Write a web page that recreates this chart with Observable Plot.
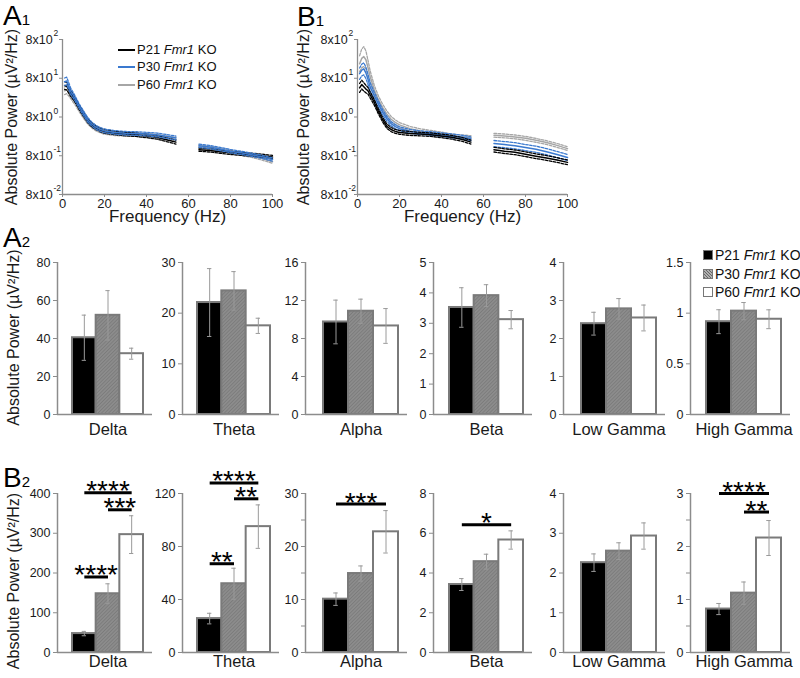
<!DOCTYPE html>
<html><head><meta charset="utf-8">
<script src="https://cdn.jsdelivr.net/npm/d3@7"></script>
<script src="https://cdn.jsdelivr.net/npm/@observablehq/plot@0.6"></script>
<style>
body{margin:0;background:#fff;font-family:"Liberation Sans",Arial,Helvetica,sans-serif;}
#fig{position:relative;width:800px;height:678px;overflow:hidden;background:#fff;}
.letter{position:absolute;font-size:28px;line-height:28px;color:#000;white-space:nowrap;}
.letter span{font-size:15px;}
.ltxt{position:absolute;white-space:nowrap;color:#111;}
.lline{position:absolute;height:2.5px;width:17px;}
.lbox{position:absolute;width:10px;height:10px;box-sizing:border-box;border:1.5px solid #777;}
</style></head>
<body>
<svg width="0" height="0" style="position:absolute">
  <defs>
    <pattern id="hatch" patternUnits="userSpaceOnUse" width="2.5" height="2.5" patternTransform="rotate(45)">
      <rect width="2.5" height="2.5" fill="#8c8c8c"></rect>
      <rect width="0.8" height="2.5" fill="#7a7a7a"></rect>
    </pattern>
  </defs>
</svg>
<div id="fig"></div>
<script>
// ================= DATA =================
const groupNames = ["P21", "P30", "P60"];
const bandNames = ["Delta", "Theta", "Alpha", "Beta", "Low Gamma", "High Gamma"];

// Spectra (A1, B1): frequency grid, mean power and SEM multipliers
const freqHz = [1,2,3,4,5,6,8,10,12,14,16,18,20,25,30,35,40,45,50,54,65,70,75,80,85,90,95,100];
const notchHz = 60;
const freqTicks = [0, 20, 40, 60, 80, 100];
const logTicks = [0.08, 0.8, 8, 80, 800];
const logTickBase = ["8x10", "8x10", "8x10", "8x10", "8x10"];
const logTickExp = ["-2", "-1", "0", "1", "2"];

const a1MeanP21 = [52,50,40,32,27,22,14,9.5,6.5,5,4.2,3.7,3.4,3.1,2.9,2.8,2.6,2.4,2.05,1.8, 1.15,1.1,1.02,0.95,0.9,0.85,0.8,0.74];
const a1MeanP30 = [65,68,50,36,30,24,15,10,6.8,5.2,4.3,3.8,3.5,3.2,3.05,3.0,2.9,2.75,2.5,2.3, 1.45,1.35,1.2,1.05,0.95,0.85,0.75,0.64];
const a1MeanP60 = [38,40,34,28,23,19,12.5,8.5,6.0,4.7,3.9,3.5,3.2,2.95,2.85,2.8,2.7,2.55,2.3,2.1, 1.38,1.28,1.15,1.0,0.9,0.8,0.68,0.56];
const a1SemP21 = [1.25,1.25,1.22,1.2,1.18,1.16,1.15,1.15,1.14,1.13,1.12,1.12,1.12,1.11,1.11,1.11,1.11,1.12,1.12,1.12, 1.1,1.1,1.1,1.1,1.1,1.1,1.1,1.1];
const a1SemP30 = [1.25,1.25,1.22,1.2,1.18,1.16,1.15,1.15,1.14,1.13,1.12,1.12,1.12,1.11,1.11,1.11,1.11,1.12,1.12,1.12, 1.1,1.1,1.1,1.1,1.1,1.1,1.1,1.1];
const a1SemP60 = [1.25,1.25,1.22,1.2,1.18,1.16,1.15,1.15,1.14,1.13,1.12,1.12,1.12,1.11,1.11,1.11,1.11,1.12,1.12,1.12, 1.1,1.1,1.1,1.1,1.1,1.1,1.1,1.1];

const b1MeanP21 = [45,55,48,42,38,30,19,11,6.8,4.6,3.8,3.4,3.2,3.0,2.9,2.8,2.6,2.4,2.1,1.8, 1.15,1.05,0.98,0.88,0.78,0.7,0.62,0.54];
const b1MeanP30 = [105,130,140,110,75,48,28,17,10.5,7.2,5.4,4.5,4.0,3.4,3.15,3.0,2.8,2.6,2.4,2.2, 1.65,1.55,1.45,1.3,1.18,1.02,0.86,0.72];
const b1MeanP60 = [190,260,290,240,150,90,40,22,14,9.5,7,5.8,5.0,4.0,3.5,3.2,2.9,2.6,2.45,2.35, 2.7,2.6,2.45,2.25,2.0,1.75,1.48,1.22];
const b1SemP21 = [1.3,1.3,1.28,1.25,1.22,1.2,1.18,1.16,1.15,1.14,1.13,1.12,1.12,1.12,1.11,1.11,1.11,1.12,1.12,1.12, 1.15,1.15,1.15,1.15,1.15,1.15,1.15,1.15];
const b1SemP30 = [1.4,1.42,1.43,1.4,1.35,1.3,1.25,1.2,1.18,1.16,1.14,1.13,1.12,1.12,1.11,1.11,1.11,1.12,1.12,1.12, 1.2,1.2,1.2,1.2,1.2,1.2,1.2,1.2];
const b1SemP60 = [1.6,1.75,1.8,1.7,1.55,1.4,1.3,1.25,1.22,1.2,1.18,1.16,1.15,1.14,1.13,1.12,1.12,1.12,1.12,1.12, 1.12,1.12,1.12,1.12,1.12,1.12,1.12,1.12];

// Band power (A2)
const a2P21 = [40.4, 22.1, 9.74, 3.52, 2.39, 0.916];
const a2P30 = [52.2, 24.4, 10.87, 3.91, 2.78, 1.02];
const a2P60 = [32.0, 17.5, 9.32, 3.12, 2.54, 0.94];
const a2SemP21 = [11.9, 6.7, 2.3, 0.65, 0.3, 0.118];
const a2SemP30 = [13.0, 3.8, 1.27, 0.36, 0.27, 0.085];
const a2SemP60 = [2.9, 1.5, 1.83, 0.3, 0.34, 0.093];
const a2YMax = [80, 30, 16, 5, 4, 1.5];
const a2Ticks = [[0,20,40,60,80],[0,10,20,30],[0,4,8,12,16],[0,1,2,3,4,5],[0,1,2,3,4],[0,0.5,1,1.5]];
const a2MinorTicks = [[],[],[],[],[],[]];

// Band power (B2)
const b2P21 = [47.6, 25.6, 10.06, 3.42, 2.26, 0.82];
const b2P30 = [147.8, 51.9, 14.9, 4.57, 2.55, 1.12];
const b2P60 = [296.5, 95, 22.77, 5.66, 2.93, 2.16];
const b2SemP21 = [5.5, 4.0, 1.17, 0.3, 0.22, 0.105];
const b2SemP30 = [25, 11.7, 1.43, 0.375, 0.21, 0.21];
const b2SemP60 = [47.5, 16.4, 4.0, 0.46, 0.33, 0.33];
const b2YMax = [400, 120, 30, 8, 4, 3];
const b2Ticks = [[0,100,200,300,400],[0,40,80,120],[0,10,20,30],[0,2,4,6,8],[0,1,2,3,4],[0,1,2,3]];
const b2MinorTicks = [[],[],[5,15,25],[],[],[0.5,1.5,2.5]];

// Significance (B2)
const sigBand  = ["Delta","Delta","Delta","Theta","Theta","Theta","Alpha","Beta","High Gamma","High Gamma"];
const sigFrom  = ["P21","P30","P21","P21","P30","P21","P21","P21","P21","P30"];
const sigTo    = ["P60","P60","P30","P60","P60","P30","P60","P60","P60","P60"];
const sigLevel = [402, 359, 190, 128, 116, 67, 28, 6.43, 3.0, 2.65];
const sigStars = ["****","***","****","****","**","**","***","*","****","**"];

const yTitle = "Absolute Power (µV²/Hz)";

// ================= STYLE / LAYOUT =================
const FONT = "'Liberation Sans', Arial, Helvetica, sans-serif";
const AXIS = "#8c8c8c";
const lineColors = ["#000000", "#3a79cf", "#a6a6a6"];
const barFills = ["#000000", "url(#hatch)", "#ffffff"];
const colAxis = [57, 182, 305, 433, 563, 690];
const colBarsStart = [72, 197, 323, 449, 581, 706];
const colBarsEnd = [143, 270, 398, 523, 656, 781];

const fig = document.getElementById("fig");
function place(el, left, top) {
  el.style.position = "absolute";
  el.style.left = left + "px";
  el.style.top = top + "px";
  fig.appendChild(el);
}
const svgStyle = {background: "transparent", overflow: "visible", fontFamily: FONT, color: "#1a1a1a", maxWidth: "none"};

function spectrumPanel(left, means, sems, order, titleDx) {
  const marks = [
    Plot.ruleX([0], {stroke: AXIS, strokeWidth: 1.3}),
    Plot.ruleY([0.08], {stroke: AXIS, strokeWidth: 1.3}),
    Plot.axisY({ticks: logTicks, tickSize: 3, stroke: AXIS, label: null, tickFormat: () => ""}),
    Plot.text(logTicks, {x: 0, y: d => d, text: (d, i) => logTickBase[i], textAnchor: "start", dx: -37, fontSize: 12.5}),
    Plot.text(logTicks, {x: 0, y: d => d, text: (d, i) => logTickExp[i], textAnchor: "start", dx: -9, dy: -6, fontSize: 8.5}),
    Plot.axisX({ticks: freqTicks, tickSize: 3, tickPadding: 1, stroke: AXIS, fontSize: 13, label: null})
  ];
  for (const gi of order) {
    const rows = freqHz.map((f, k) => ({f, seg: f > notchHz ? 1 : 0,
      m: means[gi][k], lo: means[gi][k] / sems[gi][k], hi: means[gi][k] * sems[gi][k]}));
    marks.push(Plot.line(rows, {x: "f", y: "lo", z: "seg", stroke: lineColors[gi], strokeWidth: 1.3, strokeDasharray: "2.5,1.5"}));
    marks.push(Plot.line(rows, {x: "f", y: "hi", z: "seg", stroke: lineColors[gi], strokeWidth: 1.3, strokeDasharray: "2.5,1.5"}));
    marks.push(Plot.line(rows, {x: "f", y: "m", z: "seg", stroke: lineColors[gi], strokeWidth: 1.5}));
  }
  marks.push(Plot.text(["Frequency (Hz)"], {text: d => d, frameAnchor: "bottom", dy: 27, fontSize: 17}));
  marks.push(Plot.text([yTitle], {text: d => d, frameAnchor: "left", textAnchor: "middle", rotate: -90, dx: titleDx, dy: 0, fontSize: 16}));
  const svg = Plot.plot({
    width: 290, height: 230, marginLeft: 62, marginRight: 18, marginTop: 39, marginBottom: 36,
    style: svgStyle,
    x: {domain: [0, 100]},
    y: {type: "log", domain: [0.08, 800]},
    marks
  });
  place(svg, left - 62, 0);
}

spectrumPanel(62, [a1MeanP21, a1MeanP30, a1MeanP60], [a1SemP21, a1SemP30, a1SemP60], [2, 0, 1], -51);
spectrumPanel(357, [b1MeanP21, b1MeanP30, b1MeanP60], [b1SemP21, b1SemP30, b1SemP60], [2, 1, 0], -54);

function barPanel(col, maxY, zeroY, yMax, ticks, minor, means, sems, sigs, labelDy, titleDy, titleSize) {
  const ML = col === 0 ? colAxis[0] : 45;
  const MR = 6, MT = 45, MB = 34;
  const bw = (colBarsEnd[col] - colBarsStart[col]) / 3;
  const frameW = colBarsEnd[col] + 9 - colAxis[col];
  const x0 = -0.5 - (colBarsStart[col] - colAxis[col]) / bw;
  const x1 = 2.5 + 9 / bw;
  const rows = groupNames.map((g, i) => ({g, i, v: means[i], lo: means[i] - sems[i], hi: means[i] + sems[i]}));
  const allTicks = ticks.concat(minor);
  const marks = [
    ...rows.map((r, i) => Plot.rect([r], {x1: d => d.i - 0.5, x2: d => d.i + 0.5, y1: 0, y2: "v",
      fill: barFills[i], stroke: "#7a7a7a", strokeWidth: 2})),
    Plot.ruleX(rows, {x: "i", y1: "lo", y2: "hi", stroke: "#9a9a9a", strokeWidth: 1}),
    Plot.ruleY(rows, {y: "lo", x1: d => d.i - 0.09, x2: d => d.i + 0.09, stroke: "#9a9a9a", strokeWidth: 1}),
    Plot.ruleY(rows, {y: "hi", x1: d => d.i - 0.09, x2: d => d.i + 0.09, stroke: "#9a9a9a", strokeWidth: 1}),
    Plot.ruleX([x0], {stroke: AXIS, strokeWidth: 1.5}),
    Plot.ruleY([0], {stroke: AXIS, strokeWidth: 1.5}),
    Plot.axisY({ticks: allTicks, tickSize: 4, tickPadding: 3, stroke: AXIS, fontSize: 12.5, label: null,
      tickFormat: d => ticks.includes(d) ? String(d) : ""}),
    Plot.text([bandNames[col]], {text: d => d, x: () => 1, frameAnchor: "bottom", lineAnchor: "top", dy: labelDy, fontSize: 16.5})
  ];
  if (sigs.length) {
    marks.push(Plot.link(sigs, {x1: "a", x2: "b", y1: "level", y2: "level", stroke: "#000", strokeWidth: 3}));
    marks.push(Plot.text(sigs, {x: d => (d.a + d.b) / 2, y: "level", text: "stars", fontSize: 28, dy: -1.5, fill: "#000"}));
  }
  if (col === 0) {
    marks.push(Plot.text([yTitle], {text: d => d, frameAnchor: "left", textAnchor: "middle", rotate: -90, dx: -44, dy: titleDy, fontSize: titleSize}));
  }
  const svg = Plot.plot({
    width: ML + frameW + MR, height: MT + (zeroY - maxY) + MB,
    marginLeft: ML, marginRight: MR, marginTop: MT, marginBottom: MB,
    style: svgStyle,
    x: {domain: [x0, x1], axis: null},
    y: {domain: [0, yMax], axis: null},
    marks
  });
  place(svg, colAxis[col] - ML, maxY - MT);
}

bandNames.forEach((band, c) => {
  barPanel(c, 262, 414, a2YMax[c], a2Ticks[c], a2MinorTicks[c],
    [a2P21[c], a2P30[c], a2P60[c]], [a2SemP21[c], a2SemP30[c], a2SemP60[c]], [], 9, -1, 16);
  const sigs = sigBand.map((b, k) => ({b0: b, a: groupNames.indexOf(sigFrom[k]), b: groupNames.indexOf(sigTo[k]),
    level: sigLevel[k], stars: sigStars[k]})).filter(s => s.b0 === band);
  barPanel(c, 493, 652, b2YMax[c], b2Ticks[c], b2MinorTicks[c],
    [b2P21[c], b2P30[c], b2P60[c]], [b2SemP21[c], b2SemP30[c], b2SemP60[c]], sigs, 3, 8, 16);
});

// ================= PANEL LETTERS =================
function letter(txt, sub, left, baseline) {
  const d = document.createElement("div");
  d.className = "letter";
  d.innerHTML = `${txt}<span>${sub}</span>`;
  d.style.left = left + "px";
  d.style.top = (baseline - 24) + "px";
  fig.appendChild(d);
}
letter("A", "1", 3, 26);
letter("B", "1", 297, 27);
letter("A", "2", 3, 248);
letter("B", "2", 3, 488);

// ================= LEGENDS =================
const legendY1 = [50, 67, 85];
groupNames.forEach((g, i) => {
  const ln = document.createElement("div");
  ln.className = "lline";
  ln.style.left = "118px"; ln.style.top = (legendY1[i] - 1.25) + "px";
  ln.style.background = lineColors[i];
  fig.appendChild(ln);
  const t = document.createElement("div");
  t.className = "ltxt";
  t.style.fontSize = "13px"; t.style.lineHeight = "16px";
  t.style.left = "137px"; t.style.top = (legendY1[i] - 8) + "px";
  t.innerHTML = `${g} <i>Fmr1</i> KO`;
  fig.appendChild(t);
});
const legendY2 = [255, 274, 292];
const boxBg = ["#000", "repeating-linear-gradient(45deg,#666 0 1px,#b0b0b0 1px 2.2px)", "#fff"];
groupNames.forEach((g, i) => {
  const b = document.createElement("div");
  b.className = "lbox";
  b.style.left = "703px"; b.style.top = (legendY2[i] - 5) + "px";
  b.style.background = boxBg[i];
  fig.appendChild(b);
  const t = document.createElement("div");
  t.className = "ltxt";
  t.style.fontSize = "14px"; t.style.lineHeight = "17px";
  t.style.left = "715px"; t.style.top = (legendY2[i] - 8.5) + "px";
  t.innerHTML = `${g} <i>Fmr1</i> KO`;
  fig.appendChild(t);
});
</script>
</body></html>
